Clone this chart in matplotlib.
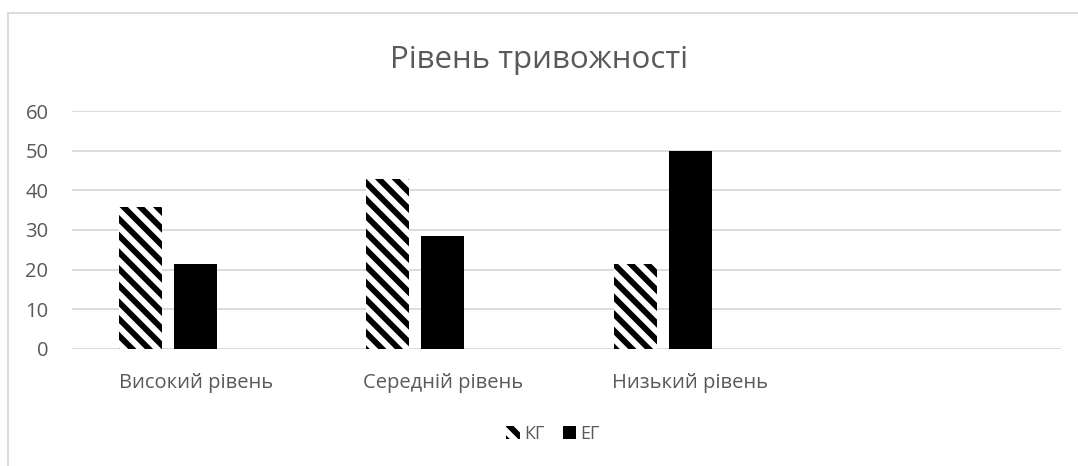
import numpy as np
import matplotlib.pyplot as plt
from matplotlib.patches import Rectangle

plt.rcParams['font.family'] = ['Open Sans', 'DejaVu Sans']
plt.rcParams['hatch.linewidth'] = 4.2
plt.rcParams['hatch.color'] = 'black'

title = 'Рівень тривожності'
categories = ['Високий рівень', 'Середній рівень', 'Низький рівень', '']
kg = [35.7, 42.9, 21.4]
eg = [21.4, 28.6, 50.0]
series_names = ['КГ', 'ЕГ']
y_ticks = [0, 10, 20, 30, 40, 50, 60]

grey = '#595959'
grid = '#d9d9d9'

fig = plt.figure(figsize=(10.78, 4.66), dpi=100)
ax = fig.add_axes([0.0668, 0.2511, 0.9174, 0.5107])

# chart area border
fig.patches.append(Rectangle((7.5 / 1078, -0.1), 1.2, 1 - 12.5 / 466 + 0.1,
                             transform=fig.transFigure, fill=False,
                             edgecolor=grid, linewidth=1.3))

x = np.arange(len(kg))
w = 0.174
step = 0.2225
ax.bar(x - step, kg, width=w, color='white', edgecolor='black',
       linewidth=0, hatch='\\\\', label=series_names[0])
ax.bar(x, eg, width=w, color='black', linewidth=0, label=series_names[1])

ax.set_xlim(-0.5, 3.5)
ax.set_ylim(0, 60)
ax.set_yticks(y_ticks)
ax.set_xticks(np.arange(len(categories)))
ax.set_xticklabels(categories)
ax.tick_params(axis='both', length=0, colors=grey, labelsize=14.5)
ax.tick_params(axis='x', pad=17)
ax.tick_params(axis='y', pad=17)
ax.yaxis.grid(True, color=grid, linewidth=1.3)
ax.set_axisbelow(True)
for s in ax.spines.values():
    s.set_visible(False)

fig.text(0.5, 1 - 60 / 466, title, ha='center', va='center',
         fontsize=22.5, color=grey)

leg = fig.legend(loc='center', bbox_to_anchor=(553 / 1078, 1 - 434 / 466),
                 ncol=2, frameon=False, fontsize=13, handlelength=0.75,
                 handleheight=0.75, handletextpad=0.25, columnspacing=1.0,
                 labelcolor=grey)

fig.savefig('out.png', dpi=100)
